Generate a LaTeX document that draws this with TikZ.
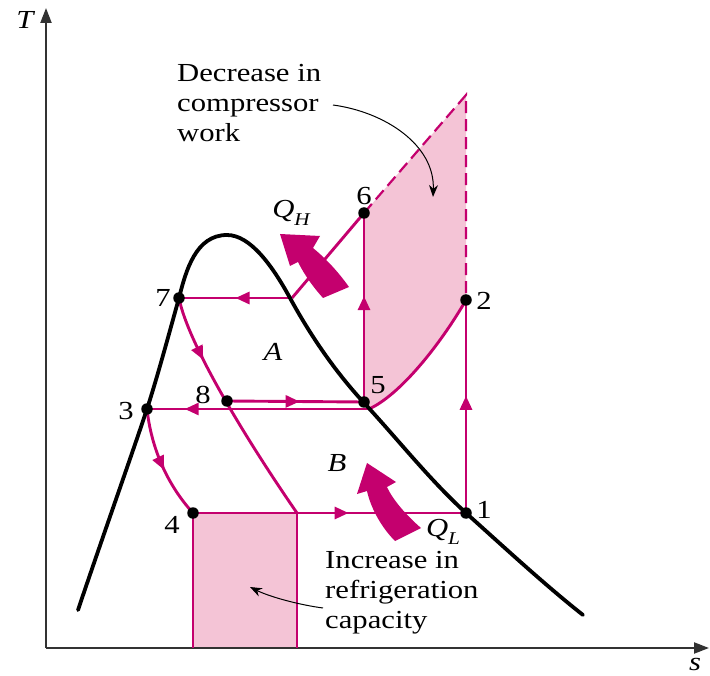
\documentclass[tikz,border=0pt]{standalone}
\usepackage{fontspec}
\setmainfont{Liberation Serif}[FakeStretch=1.18]
\usetikzlibrary{arrows.meta,decorations.markings}
\definecolor{mag}{RGB}{196,0,110}
\definecolor{pinkf}{RGB}{244,196,214}
\definecolor{axisc}{RGB}{50,50,50}
\begin{document}
\begin{tikzpicture}[x=1pt,y=-1pt,
  cyc/.style={draw=mag,line width=2.9pt},
  edge/.style={draw=mag,line width=2.2pt},
  dome/.style={draw=black,line width=3.8pt,line cap=round},
  ax/.style={draw=axisc,line width=2.2pt,-{Triangle[length=15pt,width=11pt]}},
  dot/.style={circle,fill=black,inner sep=0pt,minimum size=11.5pt},
  lbl/.style={font=\fontsize{26}{30}\selectfont,inner sep=0pt},
  txt/.style={font=\fontsize{26}{30}\selectfont,inner sep=0pt,anchor=base west},
  midarr/.style={postaction={decorate,decoration={markings,mark=at position #1 with {\arrow{Triangle[length=14pt,width=12pt]}}}}},
  lead/.style={draw=black,line width=1pt,-{Stealth[length=12pt,width=9pt]}},
  dashedge/.style={draw=mag,line width=2.2pt,dash pattern=on 12pt off 6pt}
]
\useasboundingbox (0,0) rectangle (710,676);
% key points
\coordinate (p1) at (466,513);
\coordinate (p2) at (466,300);
\coordinate (p3) at (147,409);
\coordinate (p4) at (193,513);
\coordinate (p5) at (364,402);
\coordinate (p6) at (364,213);
\coordinate (p7) at (179,298);
\coordinate (p8) at (227,401);
\coordinate (top) at (466,95);
\coordinate (q) at (369,409);
\coordinate (h) at (292,298);
\coordinate (e) at (297,513);
\coordinate (r1) at (193,648);
\coordinate (r2) at (297,648);
\coordinate (O) at (46,648);
\coordinate (Ttop) at (46,8);
\coordinate (Sright) at (709,648);
\coordinate (dstart) at (78,610);
\coordinate (dpeak) at (227,235);
\coordinate (dmid) at (290,298);
\coordinate (dend) at (583,615);
% pink areas
\fill[pinkf] (p4) rectangle (r2);
\fill[pinkf] (p6) -- (top) -- (p2) .. controls (440,345) and (400,395) .. (q) -- (p5) -- cycle;
% axes
\draw[ax] (O) -- (Ttop);
\draw[ax] (O) -- (Sright);
% cycle lines
\draw[dashedge] (p6) -- (top) -- (p2);
\draw[cyc, midarr=0.55] (p1) -- (p2);
\draw[cyc] (p2) .. controls (440,345) and (400,395) .. (q);
\draw[cyc, midarr=0.56] (p5) -- (p6);
\draw[cyc] (p6) -- (h);
\draw[cyc, midarr=0.5] (h) -- (p7);
\draw[cyc, midarr=0.27] (p7) .. controls (188,345) and (250,445) .. (e);
\draw[cyc, midarr=0.53] (p8) -- (p5);
\draw[cyc, midarr=0.83] (q) -- (p3);
\draw[cyc, midarr=0.55] (p3) .. controls (152,455) and (172,490) .. (p4);
\draw[cyc, midarr=0.57] (p4) -- (p1);
\draw[edge] (p4) -- (r1);
\draw[edge] (e) -- (r2);
% saturation dome
\draw[dome] (dstart) .. controls (105,530) and (130,460) .. (p3)
  .. controls (158,375) and (170,330) .. (p7)
  .. controls (186,270) and (196,235) .. (dpeak)
  .. controls (250,235) and (272,265) .. (dmid)
  .. controls (313,340) and (338,375) .. (366,405)
  .. controls (400,442) and (430,480) .. (p1)
  .. controls (505,548) and (545,585) .. (dend);
% heat arrows
\fill[mag] (280,234) -- (290,266) -- (298,262) .. controls (305,276) and (314,288) .. (323,298) -- (349,287) .. controls (337,270) and (324,257) .. (313,248) -- (320,236) -- cycle;
\fill[mag] (367,463) -- (357,494) -- (367,491) .. controls (371,509) and (382,528) .. (395,541) -- (421,528) .. controls (406,515) and (393,500) .. (387,487) -- (396,482) -- cycle;
% dots
\node[dot] (d1) at (p1) {};
\node[dot] (d2) at (p2) {};
\node[dot] (d3) at (p3) {};
\node[dot] (d4) at (p4) {};
\node[dot] (d5) at (p5) {};
\node[dot] (d6) at (p6) {};
\node[dot] (d7) at (p7) {};
\node[dot] (d8) at (p8) {};
% point labels
\node[lbl] (l1) at (484,510) {1};
\node[lbl] (l2) at (484,301) {2};
\node[lbl] (l3) at (126,411) {3};
\node[lbl] (l4) at (172,525) {4};
\node[lbl] (l5) at (378,385) {5};
\node[lbl] (l6) at (364,196) {6};
\node[lbl] (l7) at (163,298) {7};
\node[lbl] (l8) at (203,395) {8};
\node[lbl] (lA) at (273,352) {\itshape A};
\node[lbl] (lB) at (337,463) {\itshape B};
\node[lbl] (lT) at (25,20) {\itshape T};
\node[lbl] (ls) at (695,664) {\itshape s};
\node[lbl] (lQH) at (291,213) {\itshape Q\raisebox{-0.3em}{\fontsize{18}{18}\selectfont H}};
\node[lbl] (lQL) at (443,532) {\itshape Q\raisebox{-0.3em}{\fontsize{18}{18}\selectfont L}};
% texts
\node[txt] (dt1) at (177,82) {Decrease in};
\node[txt] (dt2) at (177,112) {compressor};
\node[txt] (dt3) at (177,142) {work};
\node[txt] (it1) at (325,568) {Increase in};
\node[txt] (it2) at (325,598) {refrigeration};
\node[txt] (it3) at (325,628) {capacity};
% leaders
\coordinate (a1) at (333,105);
\coordinate (a2) at (433,197);
\coordinate (b1) at (323,608);
\coordinate (b2) at (250,587);
\draw[lead] (a1) .. controls (385,112) and (435,145) .. (a2);
\draw[lead] (b1) .. controls (300,605) and (270,597) .. (b2);
\end{tikzpicture}
\end{document}
